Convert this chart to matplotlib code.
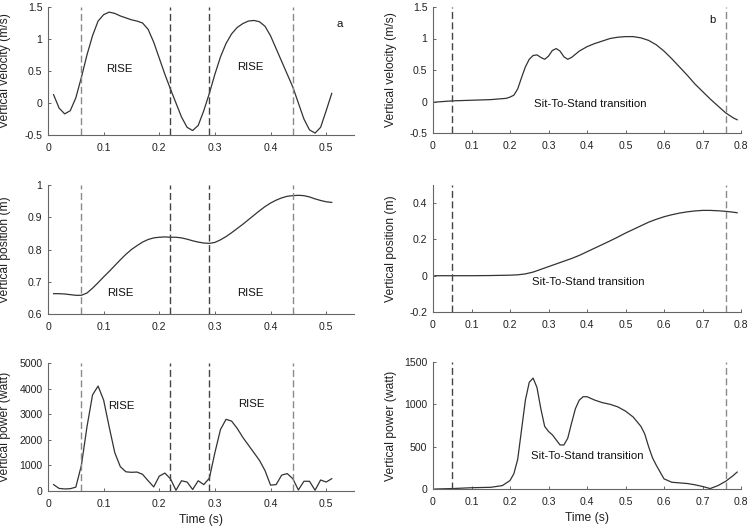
import matplotlib
matplotlib.use("Agg")
import matplotlib.pyplot as plt
import numpy as np

plt.rcParams['font.family'] = ['Liberation Sans', 'DejaVu Sans']

# ---- Panel a data (time step 0.01 s) ----
t_a = [0.01, 0.02, 0.03, 0.04, 0.05, 0.06, 0.07, 0.08, 0.09, 0.10,
       0.11, 0.12, 0.13, 0.14, 0.15, 0.16, 0.17, 0.18, 0.19, 0.20,
       0.21, 0.22, 0.23, 0.24, 0.25, 0.26, 0.27, 0.28, 0.29, 0.30,
       0.31, 0.32, 0.33, 0.34, 0.35, 0.36, 0.37, 0.38, 0.39, 0.40,
       0.41, 0.42, 0.43, 0.44, 0.45, 0.46, 0.47, 0.48, 0.49, 0.50, 0.51]
vel_a = [0.13, -0.08, -0.17, -0.12, 0.08, 0.40, 0.75, 1.05, 1.28, 1.38,
         1.42, 1.40, 1.36, 1.33, 1.30, 1.28, 1.25, 1.15, 0.95, 0.70,
         0.45, 0.22, 0.00, -0.22, -0.38, -0.43, -0.35, -0.12, 0.15, 0.45,
         0.72, 0.93, 1.08, 1.18, 1.24, 1.28, 1.29, 1.27, 1.20, 1.05,
         0.85, 0.65, 0.45, 0.25, 0.00, -0.25, -0.42, -0.47, -0.38, -0.12, 0.15]
pos_a = [0.663, 0.663, 0.662, 0.660, 0.658, 0.658, 0.665, 0.680, 0.697, 0.715,
         0.732, 0.750, 0.768, 0.785, 0.800, 0.812, 0.823, 0.831, 0.836, 0.838,
         0.839, 0.838, 0.838, 0.836, 0.832, 0.827, 0.823, 0.820, 0.819, 0.822,
         0.830, 0.840, 0.852, 0.865, 0.878, 0.892, 0.906, 0.920, 0.933, 0.944,
         0.953, 0.960, 0.965, 0.967, 0.968, 0.967, 0.963, 0.957, 0.952, 0.948, 0.946]
pow_a = [250, 100, 80, 90, 150, 1000, 2500, 3750, 4100, 3550,
         2500, 1500, 950, 750, 730, 740, 650, 400, 160, 580,
         700, 480, 30, 400, 350, 60, 400, 250, 500, 1500,
         2400, 2800, 2730, 2450, 2100, 1800, 1500, 1200, 800, 230,
         250, 620, 680, 480, 40, 380, 380, 30, 430, 350, 480]
events_a_dark = [0.22, 0.29]
events_a_light = [0.06, 0.44]

# ---- Panel b data ----
t_bv = [0.005, 0.05, 0.10, 0.15, 0.19, 0.20, 0.21, 0.22, 0.23, 0.24, 0.25, 0.26,
        0.27, 0.28, 0.29, 0.30, 0.31, 0.32, 0.33, 0.34, 0.35, 0.36, 0.38,
        0.40, 0.42, 0.44, 0.46, 0.48, 0.50, 0.52, 0.54, 0.56, 0.58, 0.60,
        0.62, 0.64, 0.66, 0.68, 0.70, 0.72, 0.74, 0.76, 0.78, 0.79]
vel_b = [-0.01, 0.01, 0.02, 0.03, 0.05, 0.07, 0.10, 0.20, 0.38, 0.55, 0.67, 0.73,
         0.74, 0.70, 0.67, 0.72, 0.81, 0.84, 0.80, 0.71, 0.67, 0.70, 0.80,
         0.87, 0.92, 0.96, 1.00, 1.02, 1.03, 1.03, 1.01, 0.97, 0.90, 0.80,
         0.68, 0.55, 0.42, 0.28, 0.16, 0.04, -0.07, -0.18, -0.26, -0.29]
t_bp = [0.005, 0.05, 0.10, 0.15, 0.20, 0.22, 0.24, 0.26, 0.28, 0.30, 0.32, 0.34,
        0.36, 0.38, 0.40, 0.42, 0.44, 0.46, 0.48, 0.50, 0.52, 0.54, 0.56,
        0.58, 0.60, 0.62, 0.64, 0.66, 0.68, 0.70, 0.72, 0.74, 0.76, 0.78, 0.79]
pos_b = [0.0, 0.0, 0.0, 0.001, 0.003, 0.005, 0.010, 0.020, 0.035, 0.050, 0.065, 0.080,
         0.095, 0.112, 0.132, 0.152, 0.172, 0.192, 0.213, 0.235, 0.255, 0.275, 0.295,
         0.311, 0.325, 0.336, 0.345, 0.352, 0.357, 0.360, 0.360, 0.358, 0.355, 0.350, 0.347]
t_bw = [0.005, 0.05, 0.10, 0.15, 0.18, 0.20, 0.21, 0.22, 0.23, 0.24, 0.25, 0.26,
        0.27, 0.28, 0.29, 0.30, 0.31, 0.32, 0.33, 0.34, 0.35, 0.36, 0.37, 0.38,
        0.39, 0.40, 0.42, 0.44, 0.46, 0.48, 0.50, 0.52, 0.54, 0.55, 0.56, 0.57,
        0.58, 0.60, 0.62, 0.64, 0.66, 0.68, 0.70, 0.72, 0.74, 0.76, 0.78, 0.79]
pow_b = [0, 5, 15, 20, 40, 100, 180, 350, 700, 1050, 1260, 1310,
         1200, 950, 740, 680, 640, 580, 520, 520, 600, 780, 950, 1050,
         1090, 1090, 1050, 1020, 1000, 970, 920, 850, 740, 650, 500, 370,
         280, 120, 80, 72, 65, 50, 30, 5, 40, 90, 160, 200]
events_b_dark = [0.05]
events_b_light = [0.76]

ylabels = ['Vertical velocity (m/s)', 'Vertical position (m)', 'Vertical power (watt)']

fig = plt.figure(figsize=(7.5, 5.29), dpi=100)
W, H = 750, 529

def make_ax(x0, x1, y0, y1):
    return fig.add_axes([x0 / W, 1 - y1 / H, (x1 - x0) / W, (y1 - y0) / H])

line_c = '#333333'
axis_c = '#666666'
text_c = '#222222'
TICK_FS = 7.6
LABEL_FS = 8.7
ANN_FS = 8.2
DASH = (0, (5, 2.5))

def style(ax):
    for s in ['top', 'right']:
        ax.spines[s].set_visible(False)
    for s in ['left', 'bottom']:
        ax.spines[s].set_color(axis_c)
        ax.spines[s].set_linewidth(0.8)
    ax.tick_params(direction='in', length=2.5, width=0.7, colors=axis_c,
                   labelcolor=text_c, labelsize=TICK_FS)
    ax.tick_params(axis='x', pad=6)
    ax.tick_params(axis='y', pad=4)

rows_a = [(7, 135), (185, 314), (363, 491)]
rows_b = [(7, 133), (185, 312), (362, 489)]

# Panel a
axes_a = [make_ax(48, 354, r0, r1) for r0, r1 in rows_a]
data_a = [vel_a, pos_a, pow_a]
ylims_a = [(-0.5, 1.5), (0.6, 1.0), (0, 5000)]
yticks_a = [[-0.5, 0, 0.5, 1, 1.5], [0.6, 0.7, 0.8, 0.9, 1.0], [0, 1000, 2000, 3000, 4000, 5000]]
yticklabels_a = [['-0.5', '0', '0.5', '1', '1.5'], ['0.6', '0.7', '0.8', '0.9', '1'],
                 ['0', '1000', '2000', '3000', '4000', '5000']]
rise_pos = [[(0.129, 0.53), (0.364, 0.56)], [(0.13, 0.665), (0.364, 0.665)],
            [(0.132, 3320), (0.366, 3400)]]
for i, ax in enumerate(axes_a):
    style(ax)
    ax.plot(t_a, data_a[i], color=line_c, lw=0.9)
    for e in events_a_dark:
        ax.axvline(e, color='#444444', ls=DASH, lw=1.0)
    for e in events_a_light:
        ax.axvline(e, color='#8a8a8a', ls=DASH, lw=1.0)
    ax.set_xlim(0, 0.55)
    ax.set_ylim(*ylims_a[i])
    ax.set_xticks([0, 0.1, 0.2, 0.3, 0.4, 0.5])
    ax.set_xticklabels(['0', '0.1', '0.2', '0.3', '0.4', '0.5'])
    ax.set_yticks(yticks_a[i])
    ax.set_yticklabels(yticklabels_a[i])
    ax.set_ylabel(ylabels[i], fontsize=LABEL_FS, color=text_c)
    ax.yaxis.set_label_coords((11 - 48) / 306, 0.5)
    for (x, y) in rise_pos[i]:
        ax.text(x, y, 'RISE', ha='center', va='center', fontsize=ANN_FS, color='#111111')
axes_a[0].text(0.525, 1.23, 'a', ha='center', va='center', fontsize=ANN_FS, color='#111111')
axes_a[2].set_xlabel('Time (s)', fontsize=LABEL_FS, color=text_c, labelpad=3)

# Panel b
axes_b = [make_ax(433, 741, r0, r1) for r0, r1 in rows_b]
data_b = [(t_bv, vel_b), (t_bp, pos_b), (t_bw, pow_b)]
ylims_b = [(-0.5, 1.5), (-0.2, 0.5), (0, 1500)]
yticks_b = [[-0.5, 0, 0.5, 1, 1.5], [-0.2, 0, 0.2, 0.4], [0, 500, 1000, 1500]]
yticklabels_b = [['-0.5', '0', '0.5', '1', '1.5'], ['-0.2', '0', '0.2', '0.4'],
                 ['0', '500', '1000', '1500']]
sts_pos = [(0.408, -0.04), (0.403, -0.036), (0.40, 390)]
for i, ax in enumerate(axes_b):
    style(ax)
    tx, ty = data_b[i]
    ax.plot(tx, ty, color=line_c, lw=0.9)
    for e in events_b_dark:
        ax.axvline(e, color='#444444', ls=DASH, lw=1.0)
    for e in events_b_light:
        ax.axvline(e, color='#8a8a8a', ls=DASH, lw=1.0)
    ax.set_xlim(0, 0.8)
    ax.set_ylim(*ylims_b[i])
    ax.set_xticks([0, 0.1, 0.2, 0.3, 0.4, 0.5, 0.6, 0.7, 0.8])
    ax.set_xticklabels(['0', '0.1', '0.2', '0.3', '0.4', '0.5', '0.6', '0.7', '0.8'])
    ax.set_yticks(yticks_b[i])
    ax.set_yticklabels(yticklabels_b[i])
    ax.set_ylabel(ylabels[i], fontsize=LABEL_FS, color=text_c)
    ax.yaxis.set_label_coords((397 - 433) / 308, 0.5)
    x, y = sts_pos[i]
    ax.text(x, y, 'Sit-To-Stand transition', ha='center', va='center',
            fontsize=ANN_FS, color='#111111')
axes_b[0].text(0.725, 1.29, 'b', ha='center', va='center', fontsize=ANN_FS, color='#111111')
axes_b[2].set_xlabel('Time (s)', fontsize=LABEL_FS, color=text_c, labelpad=3)

fig.savefig('out.png', dpi=100)
